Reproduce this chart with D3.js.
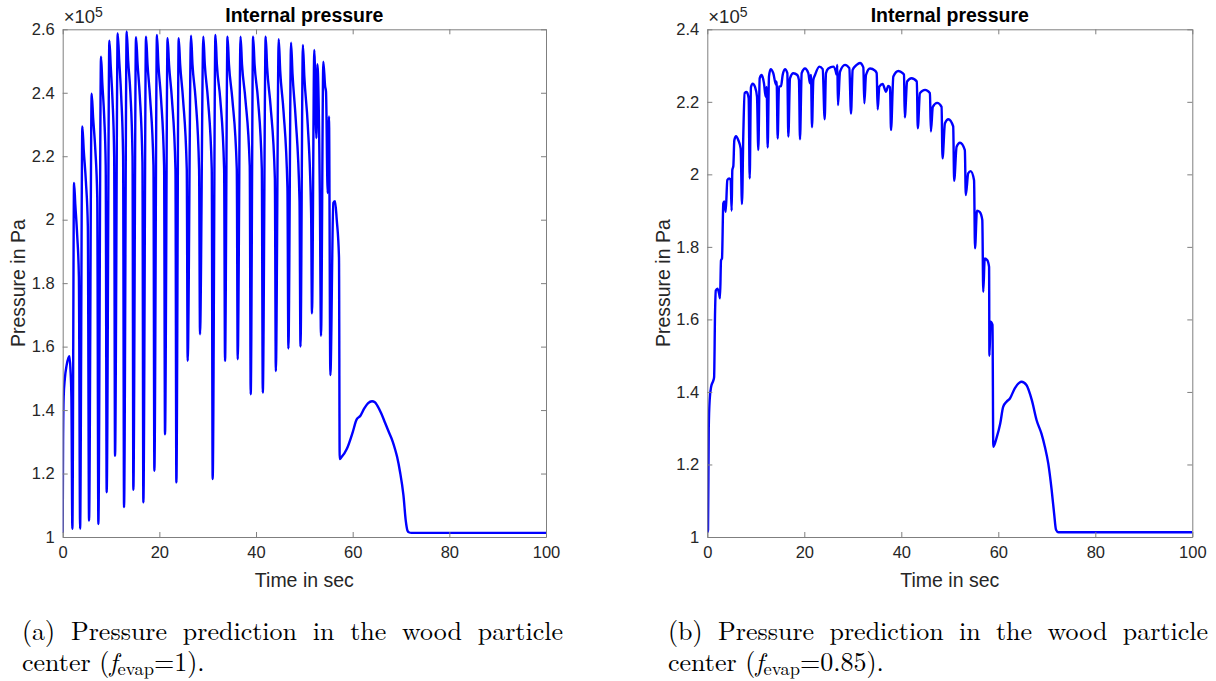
<!DOCTYPE html>
<html><head><meta charset="utf-8">
<script src="https://cdn.jsdelivr.net/npm/d3@7"></script>
<style>
body{margin:0;background:#fff;}
svg{display:block;}
</style></head><body>
<svg id="c" width="1216" height="681"></svg>
<script>
// ---------- data ----------
const xTicks = [0, 20, 40, 60, 80, 100];
const yTicksA = [1, 1.2, 1.4, 1.6, 1.8, 2, 2.2, 2.4, 2.6];
const yTicksB = [1, 1.2, 1.4, 1.6, 1.8, 2, 2.2, 2.4];
const titleText = "Internal pressure";
const xLabelText = "Time in sec";
const yLabelText = "Pressure in Pa";
const captionA = ["(a) Pressure prediction in the wood particle", "center (", "f", "evap", "=1)."];
const captionB = ["(b) Pressure prediction in the wood particle", "center (", "f", "evap", "=0.85)."];

// (time [s], pressure [x1e5 Pa]) for f_evap = 1
const pressureA = [
 [0,1.013],[0.08,1.30],[0.2,1.44],[0.45,1.50],[0.8,1.54],[1.2,1.565],[1.4,1.57],[1.6,1.53],[1.8,1.44],[2.0,1.026],
 [2.35,2.116],[2.6,2.05],[3.0,1.95],[3.35,1.82],[3.6,1.026],
 [4.07,2.294],[4.35,2.22],[4.8,2.12],[5.2,1.98],[5.45,1.052],
 [6.0,2.397],[6.3,2.32],[6.75,2.22],[7.15,2.07],[7.38,1.041],
 [7.93,2.514],[8.2,2.43],[8.6,2.32],[8.9,2.17],[9.10,1.141],
 [9.66,2.564],[9.95,2.48],[10.3,2.38],[10.65,2.2],[10.83,1.256],
 [11.38,2.587],[11.7,2.50],[12.1,2.39],[12.5,2.2],[12.69,1.094],
 [13.24,2.593],[13.55,2.50],[14.0,2.40],[14.45,2.2],[14.62,1.149],
 [15.17,2.575],[15.5,2.49],[15.95,2.39],[16.5,2.18],[16.69,1.109],
 [17.24,2.577],[17.55,2.49],[18.1,2.38],[18.78,2.17],[18.97,1.209],
 [19.5,2.582],[19.8,2.49],[20.35,2.38],[20.98,2.17],[21.17,1.324],
 [21.7,2.572],[22.0,2.49],[22.6,2.38],[23.33,2.16],[23.52,1.172],
 [24.0,2.572],[24.3,2.49],[24.9,2.38],[25.67,2.16],[25.86,1.555],
 [26.55,2.58],[26.85,2.49],[27.5,2.38],[28.22,2.16],[28.41,1.639],
 [29.1,2.577],[29.4,2.49],[30.05,2.38],[30.84,2.16],[31.03,1.183],
 [31.6,2.582],[31.9,2.49],[32.6,2.38],[33.4,2.16],[33.59,1.555],
 [34.1,2.577],[34.4,2.49],[35.1,2.38],[36.02,2.16],[36.21,1.56],
 [36.8,2.577],[37.1,2.49],[37.8,2.38],[38.7,2.17],[38.9,1.45],
 [39.4,2.577],[39.7,2.49],[40.4,2.38],[41.2,2.16],[41.4,1.455],
 [42.0,2.577],[42.3,2.48],[43.0,2.36],[43.9,2.13],[44.1,1.523],
 [44.7,2.569],[45.0,2.47],[45.7,2.34],[46.5,2.1],[46.7,1.594],
 [47.25,2.558],[47.55,2.46],[48.2,2.32],[49.0,2.06],[49.2,1.60],
 [49.7,2.551],[50.0,2.45],[50.7,2.3],[51.4,2.02],[51.58,1.705],
 [52.06,2.535],[52.5,2.257],[52.69,2.49],[53.2,2.084],[53.45,1.634],
 [53.93,2.498],[54.3,2.42],[54.48,2.404],[54.83,2.084],[55.1,2.325],[55.38,1.51],
 [56.0,2.053],[56.35,2.058],[56.7,2.0],[57.17,1.88],[57.31,1.246],
 [57.6,1.25],[58.8,1.278],[60.0,1.33],[60.8,1.37],[61.6,1.382],[62.4,1.405],[63.2,1.422],
 [64.0,1.428],[64.6,1.425],[65.1,1.414],[65.9,1.39],[66.7,1.36],[67.5,1.33],[68.3,1.30],
 [68.8,1.275],[69.2,1.252],[69.8,1.205],[70.5,1.132],[71.0,1.049],[71.3,1.022],[71.6,1.015],
 [72.2,1.013],[100,1.013]
];

// (time [s], pressure [x1e5 Pa]) for f_evap = 0.85
const pressureB = [
 [0,1.013],[0.15,1.02],[0.3,1.30],[0.5,1.38],[0.8,1.415],[1.2,1.43],[1.4,1.44],[1.6,1.62],[1.75,1.68],
 [2.1,1.685],[2.45,1.67],[2.62,1.658],[2.83,1.763],[3.03,1.768],[3.3,1.92],[3.5,1.925],[3.79,1.897],
 [4.13,1.984],[4.54,1.989],[4.82,1.984],[5.02,1.9],[5.16,2.012],[5.37,2.023],[5.57,2.094],[5.92,2.105],
 [6.4,2.094],[6.88,2.071],[7.15,1.918],[7.43,2.113],[7.7,2.224],[8.12,2.227],[8.53,2.21],[8.74,1.989],
 [9.0,2.24],[9.35,2.25],[9.84,2.241],[10.25,2.214],[10.52,2.067],[10.8,2.265],[11.21,2.274],[11.69,2.251],
 [12.03,2.214],[12.24,2.241],[12.45,2.074],[12.72,2.27],[13.07,2.29],[13.6,2.279],[14.17,2.247],[14.3,2.256],
 [14.51,2.099],[14.78,2.242],[15.2,2.243],[15.54,2.274],[16.02,2.29],[16.5,2.279],[16.71,2.104],[17.05,2.265],
 [17.74,2.279],[18.56,2.274],[18.9,2.26],[19.11,2.097],[19.46,2.279],[20.14,2.292],[20.83,2.279],[21.17,2.251],
 [21.38,2.274],[21.59,2.13],[21.86,2.26],[22.21,2.274],[23.1,2.297],[23.79,2.29],[24.2,2.152],[24.47,2.279],
 [24.95,2.292],[25.98,2.297],[26.5,2.283],[26.65,2.275],[26.8,2.302],[26.95,2.191],[27.36,2.283],[28.39,2.302],
 [29.28,2.293],[29.63,2.168],[29.97,2.288],[30.8,2.302],[31.48,2.307],[32.17,2.295],[32.38,2.196],[32.72,2.274],
 [33.55,2.292],[34.58,2.286],[34.92,2.279],[35.13,2.179],[35.47,2.242],[36.16,2.249],[36.85,2.228],[37.3,2.244],
 [37.67,2.24],[37.88,2.122],[38.36,2.27],[39.39,2.285],[40.28,2.279],[40.55,2.275],[40.72,2.157],[41.2,2.256],
 [42.1,2.265],[43.2,2.256],[43.4,2.127],[43.85,2.224],[44.9,2.233],[45.9,2.224],[46.1,2.118],[46.5,2.186],
 [47.4,2.197],[48.3,2.186],[48.5,2.044],[49.0,2.141],[49.7,2.152],[50.7,2.132],[50.9,1.982],[51.4,2.076],
 [52.1,2.087],[53.1,2.067],[53.3,1.943],[53.8,2.003],[54.3,2.009],[55.0,1.984],[55.2,1.796],[55.6,1.9],
 [56.2,1.896],[56.7,1.874],[56.9,1.676],[57.2,1.768],[57.7,1.764],[58.1,1.745],[58.17,1.5],[58.4,1.594],
 [58.8,1.585],[58.97,1.249],[59.7,1.276],[60.4,1.313],[61.0,1.359],[61.7,1.373],[62.4,1.382],[63.4,1.41],
 [64.3,1.425],[64.8,1.428],[65.8,1.419],[66.9,1.378],[67.9,1.322],[68.9,1.285],[69.6,1.249],[70.3,1.203],
 [71.0,1.13],[71.5,1.066],[71.9,1.02],[72.4,1.013],[100,1.013]
];

// ---------- drawing ----------
const svg = d3.select("#c");
const sans = "'Liberation Sans', Arial, Helvetica, sans-serif";
const serif = "'Latin Modern Roman','CMU Serif','Liberation Serif','Times New Roman',serif";
const axisColor = "#7f7f7f";
const textColor = "#262626";

function drawPanel(o) {
  const x = d3.scaleLinear().domain([0, 100]).range([o.x0, o.x1]);
  const y = d3.scaleLinear().domain(o.yDomain).range([o.y1, o.y0]);
  const g = svg.append("g");
  const clipId = "clip" + o.id;
  svg.append("clipPath").attr("id", clipId).append("rect")
    .attr("x", o.x0).attr("y", o.y0 - 2).attr("width", o.x1 - o.x0).attr("height", o.y1 - o.y0 + 2);

  const line = d3.line().x(d => x(d[0])).y(d => y(d[1])).curve(d3.curveMonotoneX);
  g.append("path").datum(o.data).attr("d", line)
    .attr("fill", "none").attr("stroke", "#0000ff").attr("stroke-width", 2.4)
    .attr("stroke-linejoin", "round").attr("clip-path", `url(#${clipId})`);

  const fmt = d => String(d);
  const styleAxis = sel => {
    sel.selectAll(".domain").attr("stroke", axisColor).attr("stroke-width", 1);
    sel.selectAll(".tick line").attr("stroke", axisColor);
    sel.selectAll("text").attr("fill", textColor).style("font-family", sans).style("font-size", "16.5px");
  };
  g.append("g").attr("transform", `translate(0,${o.y1})`)
    .call(d3.axisBottom(x).tickValues(xTicks).tickFormat(fmt).tickSizeInner(-5).tickSizeOuter(0).tickPadding(9))
    .call(styleAxis);
  g.append("g").attr("transform", `translate(0,${o.y0})`)
    .call(d3.axisTop(x).tickValues(xTicks).tickFormat("").tickSizeInner(-5).tickSizeOuter(0))
    .call(styleAxis);
  g.append("g").attr("transform", `translate(${o.x0},0)`)
    .call(d3.axisLeft(y).tickValues(o.yTicks).tickFormat(fmt).tickSizeInner(-5).tickSizeOuter(0).tickPadding(8))
    .call(styleAxis);
  g.append("g").attr("transform", `translate(${o.x1},0)`)
    .call(d3.axisRight(y).tickValues(o.yTicks).tickFormat("").tickSizeInner(-5).tickSizeOuter(0))
    .call(styleAxis);

  // exponent
  const ex = g.append("text").attr("x", o.x0 + 1).attr("y", o.y0 - 6)
    .attr("fill", textColor).style("font-family", sans).style("font-size", "18.5px");
  ex.append("tspan").text("\u00d710");
  ex.append("tspan").attr("dy", -6).style("font-size", "14px").text("5");

  // title
  g.append("text").attr("x", (o.x0 + o.x1) / 2).attr("y", o.y0 - 7)
    .attr("text-anchor", "middle").attr("fill", "#000")
    .style("font-family", sans).style("font-size", "19.5px").style("font-weight", "bold")
    .text(titleText);
  // x label
  g.append("text").attr("x", (o.x0 + o.x1) / 2).attr("y", 587)
    .attr("text-anchor", "middle").attr("fill", textColor)
    .style("font-family", sans).style("font-size", "19.5px").text(xLabelText);
  // y label
  g.append("text").attr("transform", `translate(${o.yLabelX},${(o.y0 + o.y1) / 2}) rotate(-90)`)
    .attr("text-anchor", "middle").attr("fill", textColor)
    .style("font-family", sans).style("font-size", "19.5px").text(yLabelText);

  // caption: justified first line
  const words = o.caption[0].split(" ");
  const fs = 26;
  const tmp = words.map(w => svg.append("text").style("font-family", serif).style("font-size", fs + "px").text(w));
  const widths = tmp.map(t => t.node().getComputedTextLength());
  tmp.forEach(t => t.remove());
  const total = d3.sum(widths);
  const gap = (o.capX1 - o.capX0 - total) / (words.length - 1);
  let cx = o.capX0;
  words.forEach((w, i) => {
    g.append("text").attr("x", cx).attr("y", 640).attr("fill", "#000")
      .style("font-family", serif).style("font-size", fs + "px").text(w);
    cx += widths[i] + gap;
  });
  const t2 = g.append("text").attr("x", o.capX0).attr("y", 671).attr("fill", "#000")
    .style("font-family", serif).style("font-size", fs + "px");
  t2.append("tspan").text(o.caption[1]);
  t2.append("tspan").style("font-style", "italic").text(o.caption[2]);
  t2.append("tspan").attr("dy", 4).style("font-size", "18.5px").text(o.caption[3]);
  t2.append("tspan").attr("dy", -4).text(o.caption[4]);
}

drawPanel({id: "A", x0: 62.7, x1: 546, y0: 29.3, y1: 537, yDomain: [1, 2.6], yTicks: yTicksA,
  data: pressureA, yLabelX: 25, caption: captionA, capX0: 22, capX1: 563});
drawPanel({id: "B", x0: 707.3, x1: 1192.3, y0: 29.3, y1: 537, yDomain: [1, 2.4], yTicks: yTicksB,
  data: pressureB, yLabelX: 670, caption: captionB, capX0: 668, capX1: 1208});
</script>
</body></html>
